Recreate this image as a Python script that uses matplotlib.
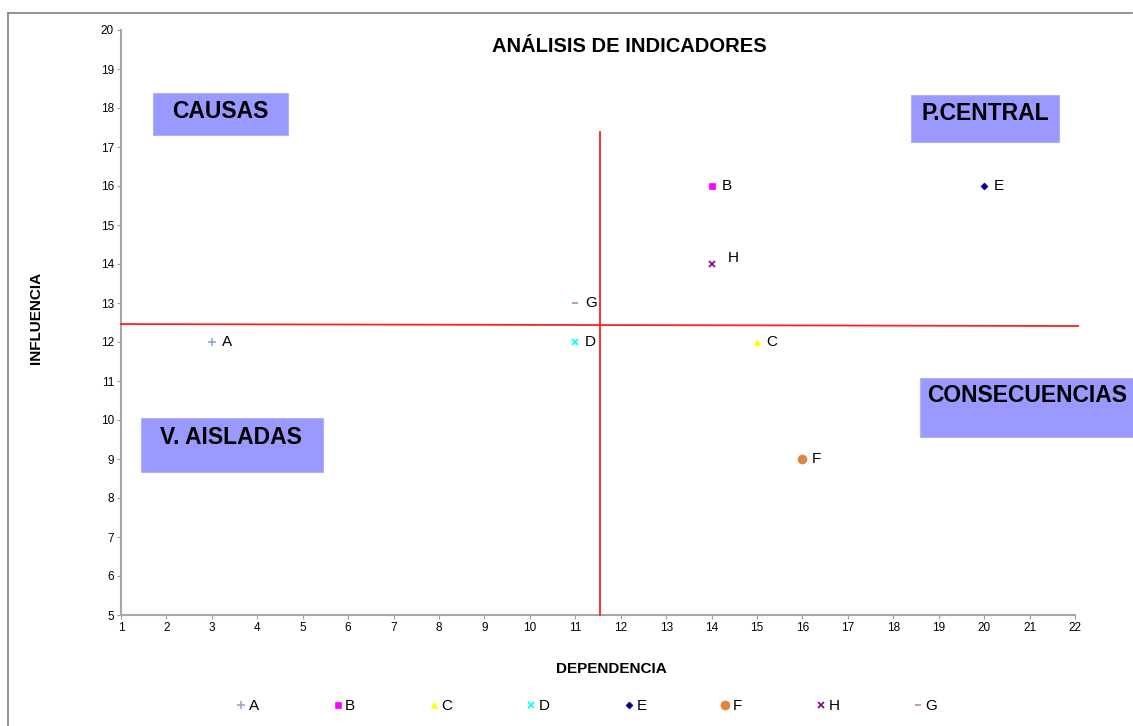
import matplotlib
matplotlib.use("Agg")
import matplotlib.pyplot as plt
from matplotlib.patches import Rectangle
from matplotlib.lines import Line2D

plt.rcParams['font.family'] = ['Liberation Sans', 'DejaVu Sans']

# ---- data ----
labels = ["A", "B", "C", "D", "E", "F", "H", "G"]
dependencia = [3, 14, 15, 11, 20, 16, 14, 11]
influencia = [12, 16, 12, 12, 16, 9, 14, 13]
x_ticks = list(range(1, 23))
y_ticks = list(range(5, 21))
title = "ANÁLISIS DE INDICADORES"
xlabel = "DEPENDENCIA"
ylabel = "INFLUENCIA"
# red reference lines (data coords)
v_line_x = [11.54, 11.54]
v_line_y = [5, 17.38]
h_line_x = [1, 22.07]
h_line_y = [12.46, 12.41]
quadrants = ["CAUSAS", "P.CENTRAL", "CONSECUENCIAS", "V. AISLADAS"]

# ---- styles ----
markers = {"A": "+", "B": "s", "C": "^", "D": "x", "E": "D", "F": "o", "H": "x", "G": "_"}
colors = {"A": "#93A9D2", "B": "#FF00FF", "C": "#FFFF00", "D": "#00FFFF",
          "E": "#000080", "F": "#DE8640", "H": "#800080", "G": "#C48A8A"}
msizes = {"A": 6, "B": 4.5, "C": 4.5, "D": 4, "E": 3.5, "F": 6.5, "H": 4, "G": 5}
label_offsets = {"H": (12, 4)}

W, H = 1133, 726
fig = plt.figure(figsize=(W / 100, H / 100), dpi=100)

def fx(px):
    return px / W

def fy(py):
    return 1 - py / H

ax = fig.add_axes([fx(121), fy(615), fx(1075) - fx(121), fy(30) - fy(615)])
ax.set_xlim(1, 22)
ax.set_ylim(5, 20)
ax.set_xticks(x_ticks)
ax.set_yticks(y_ticks)
ax.tick_params(axis='both', labelsize=8.5, length=3, width=0.8, color='#A0A0A0',
               direction='out', pad=2)
for s in ['top', 'right']:
    ax.spines[s].set_visible(False)
for s in ['left', 'bottom']:
    ax.spines[s].set_color('#A8A8A8')
    ax.spines[s].set_linewidth(1.5)

handles = []
for lab, xv, yv in zip(labels, dependencia, influencia):
    mew = 1.2 if markers[lab] in "+x_" else 0.5
    ax.plot([xv], [yv], linestyle='none', marker=markers[lab], color=colors[lab],
            markersize=msizes[lab], markeredgewidth=mew, clip_on=False, zorder=4)
    off = label_offsets.get(lab, (7, 0))
    ax.annotate(lab, (xv, yv), xytext=off, textcoords='offset points',
                ha='left', va='center', fontsize=11)
    handles.append(Line2D([], [], linestyle='none', marker=markers[lab], color=colors[lab],
                          markersize=msizes[lab], markeredgewidth=mew, label=lab))

ax.plot(v_line_x, v_line_y, color='#FF2020', linewidth=1.3, clip_on=False, zorder=3)
ax.plot(h_line_x, h_line_y, color='#FF2020', linewidth=1.3, clip_on=False, zorder=3)

# quadrant boxes (figure pixel layout)
box_color = '#9999FF'
boxes = [(153, 93, 288, 135), (911, 95, 1059, 142), (920, 378, 1133, 437), (141, 418, 323, 472)]
text_pos = [(220, 112), (985, 113), (1027, 396), (231, 437)]
for name, (x0, y0, x1, y1), (tx, ty) in zip(quadrants, boxes, text_pos):
    fig.add_artist(Rectangle((fx(x0), fy(y1)), fx(x1) - fx(x0), fy(y0) - fy(y1),
                             transform=fig.transFigure, facecolor=box_color,
                             edgecolor='#B0B0FF', linewidth=0.8, zorder=5))
    fig.text(fx(tx), fy(ty), name, ha='center', va='center', fontsize=16.5,
             fontweight='bold', zorder=6)

fig.text(fx(629), fy(47), title, ha='center', va='center', fontsize=14.5, fontweight='bold')
fig.text(fx(611), fy(669), xlabel, ha='center', va='center', fontsize=11, fontweight='bold')
fig.text(fx(36), fy(318), ylabel, ha='center', va='center', fontsize=11,
         fontweight='bold', rotation=90)

fig.legend(handles=handles, loc='center', bbox_to_anchor=(fx(587), fy(706)), ncol=8,
           frameon=False, fontsize=11, handlelength=0.6, handletextpad=0.2,
           columnspacing=4.85, borderpad=0)

# outer frame (top and left edges visible)
fig.add_artist(Line2D([fx(8), fx(1132)], [fy(13), fy(13)], transform=fig.transFigure,
                      color='#808080', linewidth=1.2))
fig.add_artist(Line2D([fx(8), fx(8)], [fy(13), fy(726)], transform=fig.transFigure,
                      color='#808080', linewidth=1.2))

fig.savefig("out.png", dpi=100)
